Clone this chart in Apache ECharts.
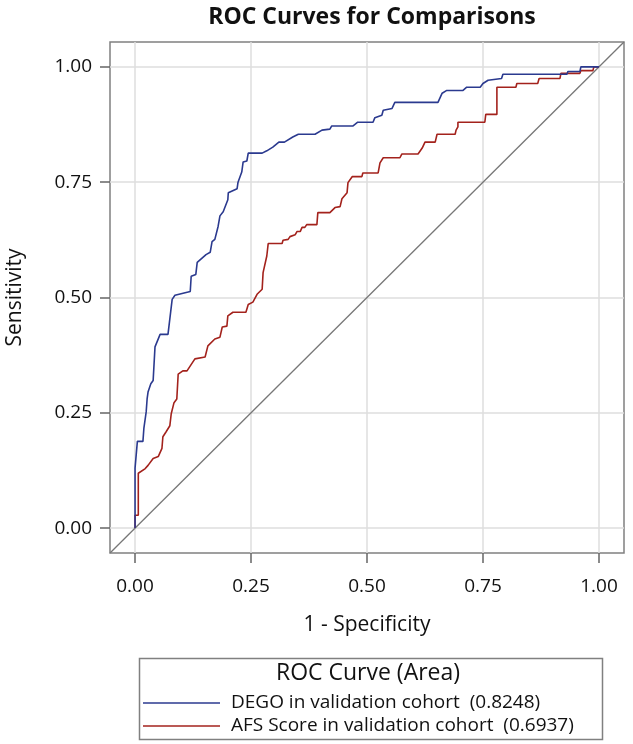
<!DOCTYPE html>
<html>
<head>
<meta charset="utf-8">
<script src="https://cdn.jsdelivr.net/npm/echarts@6/dist/echarts.min.js"></script>
<style>
  html, body { margin: 0; padding: 0; background: #fff; }
  #chart { width: 633px; height: 744px; }
</style>
</head>
<body>
<div id="chart"></div>
<script>
const tickValues = [0, 0.25, 0.5, 0.75, 1];
const axisMin = -0.054;
const axisMax = 1.054;

const seriesNames = [
  "DEGO in validation cohort  (0.8248)",
  "AFS Score in validation cohort  (0.6937)",
];

// DEGO curve, 1 - specificity vs sensitivity
const degoFpr = [0, 0, 0.004, 0.005, 0.017, 0.019, 0.024, 0.026, 0.028, 0.034, 0.039, 0.043, 0.054, 0.071, 0.080, 0.086, 0.119, 0.121, 0.131, 0.134, 0.153, 0.162, 0.166, 0.172, 0.179, 0.183, 0.19, 0.2, 0.201, 0.22, 0.222, 0.23, 0.233, 0.241, 0.244, 0.274, 0.284, 0.297, 0.31, 0.322, 0.34, 0.352, 0.388, 0.403, 0.42, 0.424, 0.47, 0.48, 0.513, 0.517, 0.532, 0.535, 0.554, 0.56, 0.653, 0.662, 0.672, 0.707, 0.715, 0.744, 0.75, 0.761, 0.79, 0.793, 0.931, 0.933, 0.959, 0.961, 1];
const degoTpr = [0, 0.13, 0.134, 0.188, 0.188, 0.216, 0.252, 0.28, 0.295, 0.313, 0.32, 0.393, 0.42, 0.42, 0.496, 0.505, 0.513, 0.546, 0.55, 0.576, 0.593, 0.598, 0.621, 0.626, 0.654, 0.677, 0.686, 0.712, 0.727, 0.736, 0.75, 0.772, 0.794, 0.796, 0.813, 0.813, 0.818, 0.826, 0.837, 0.837, 0.848, 0.854, 0.854, 0.863, 0.865, 0.872, 0.872, 0.88, 0.88, 0.89, 0.895, 0.906, 0.91, 0.923, 0.923, 0.943, 0.949, 0.949, 0.956, 0.956, 0.964, 0.971, 0.975, 0.984, 0.984, 0.99, 0.99, 1, 1];

// AFS score curve
const afsFpr = [0, 0, 0.007, 0.007, 0.011, 0.022, 0.028, 0.032, 0.039, 0.05, 0.058, 0.06, 0.067, 0.075, 0.078, 0.082, 0.084, 0.09, 0.093, 0.103, 0.112, 0.114, 0.129, 0.151, 0.157, 0.172, 0.183, 0.188, 0.198, 0.2, 0.211, 0.239, 0.244, 0.254, 0.263, 0.274, 0.276, 0.284, 0.287, 0.317, 0.319, 0.33, 0.334, 0.345, 0.349, 0.356, 0.36, 0.366, 0.37, 0.392, 0.394, 0.42, 0.431, 0.442, 0.446, 0.457, 0.459, 0.468, 0.489, 0.491, 0.524, 0.528, 0.535, 0.571, 0.575, 0.61, 0.619, 0.625, 0.647, 0.651, 0.69, 0.692, 0.696, 0.696, 0.754, 0.756, 0.78, 0.78, 0.821, 0.823, 0.868, 0.871, 0.916, 0.918, 0.959, 0.961, 0.987, 0.989, 1];
const afsTpr = [0, 0.028, 0.028, 0.119, 0.123, 0.129, 0.136, 0.14, 0.151, 0.155, 0.173, 0.198, 0.209, 0.222, 0.248, 0.252, 0.272, 0.28, 0.334, 0.341, 0.341, 0.345, 0.367, 0.371, 0.395, 0.41, 0.414, 0.436, 0.438, 0.46, 0.468, 0.468, 0.485, 0.49, 0.507, 0.518, 0.554, 0.59, 0.617, 0.617, 0.624, 0.626, 0.632, 0.636, 0.643, 0.643, 0.652, 0.652, 0.658, 0.658, 0.684, 0.684, 0.695, 0.697, 0.714, 0.727, 0.749, 0.762, 0.762, 0.77, 0.77, 0.792, 0.803, 0.803, 0.811, 0.811, 0.824, 0.837, 0.837, 0.854, 0.854, 0.863, 0.87, 0.88, 0.88, 0.897, 0.897, 0.956, 0.956, 0.964, 0.964, 0.975, 0.975, 0.986, 0.986, 0.992, 0.992, 1, 1];

const FONT = "Open Sans";
const pairs = (xs, ys) => xs.map((x, i) => [x, ys[i]]);

const axisCommon = {
  type: "value",
  min: axisMin,
  max: axisMax,
  axisLine: { show: false, onZero: false },
  axisTick: { show: true, customValues: tickValues, length: 10, lineStyle: { color: "#666", width: 1.5 } },
  axisLabel: {
    customValues: tickValues,
    formatter: (v) => v.toFixed(2),
    color: "#111",
    fontFamily: FONT,
    fontSize: 19,
  },
  splitLine: { show: true, lineStyle: { color: "#dedede", width: 1.5 } },
  nameLocation: "middle",
  nameTextStyle: { color: "#111", fontFamily: FONT, fontSize: 21 },
};

const chart = echarts.init(document.getElementById("chart"));
chart.setOption({
  animation: false,
  backgroundColor: "#fff",
  title: {
    text: "ROC Curves for Comparisons",
    left: 367,
    top: 1,
    textAlign: "center",
    textStyle: { fontFamily: FONT, fontSize: 23, fontWeight: "bold", color: "#111" },
  },
  grid: {
    left: 110, right: 9, top: 42, bottom: 191,
    outerBoundsMode: "none",
    containLabel: false,
    show: true, borderColor: "#808080", borderWidth: 1.5, backgroundColor: "transparent",
  },
  xAxis: Object.assign({}, axisCommon, {
    position: "bottom",
    name: "1 - Specificity",
    nameGap: 62,
    axisLabel: Object.assign({}, axisCommon.axisLabel, { margin: 24 }),
  }),
  yAxis: Object.assign({}, axisCommon, {
    position: "left",
    name: "Sensitivity",
    nameGap: 84,
    axisLabel: Object.assign({}, axisCommon.axisLabel, { margin: 18 }),
  }),
  legend: {
    orient: "vertical",
    left: 138,
    top: 688,
    icon: "rect",
    itemWidth: 77,
    itemHeight: 1.6,
    itemGap: 3,
    selectedMode: false,
    data: seriesNames,
    textStyle: { fontFamily: FONT, fontSize: 19, lineHeight: 20, color: "#111", padding: [0, 0, 0, 6] },
  },
  graphic: [
    {
      type: "rect",
      left: 137, top: 656,
      shape: { width: 463, height: 81 },
      style: { fill: "none", stroke: "#808080", lineWidth: 1.5 },
    },
    {
      type: "text",
      x: 368,
      y: 673,
      style: {
        text: "ROC Curve (Area)",
        font: "23px " + FONT,
        fill: "#111",
        align: "center",
        verticalAlign: "middle",
      },
    },
  ],
  series: [
    {
      name: "diagonal",
      type: "line",
      data: [[axisMin, axisMin], [axisMax, axisMax]],
      symbol: "none",
      silent: true,
      lineStyle: { color: "#777", width: 1.3 },
      z: 1,
    },
    {
      name: seriesNames[0],
      type: "line",
      data: pairs(degoFpr, degoTpr),
      symbol: "none",
      lineStyle: { color: "#2b3a8f", width: 1.6 },
      itemStyle: { color: "#2b3a8f" },
      z: 3,
    },
    {
      name: seriesNames[1],
      type: "line",
      data: pairs(afsFpr, afsTpr),
      symbol: "none",
      lineStyle: { color: "#a3221c", width: 1.6 },
      itemStyle: { color: "#a3221c" },
      z: 2,
    },
  ],
});
</script>
</body>
</html>
